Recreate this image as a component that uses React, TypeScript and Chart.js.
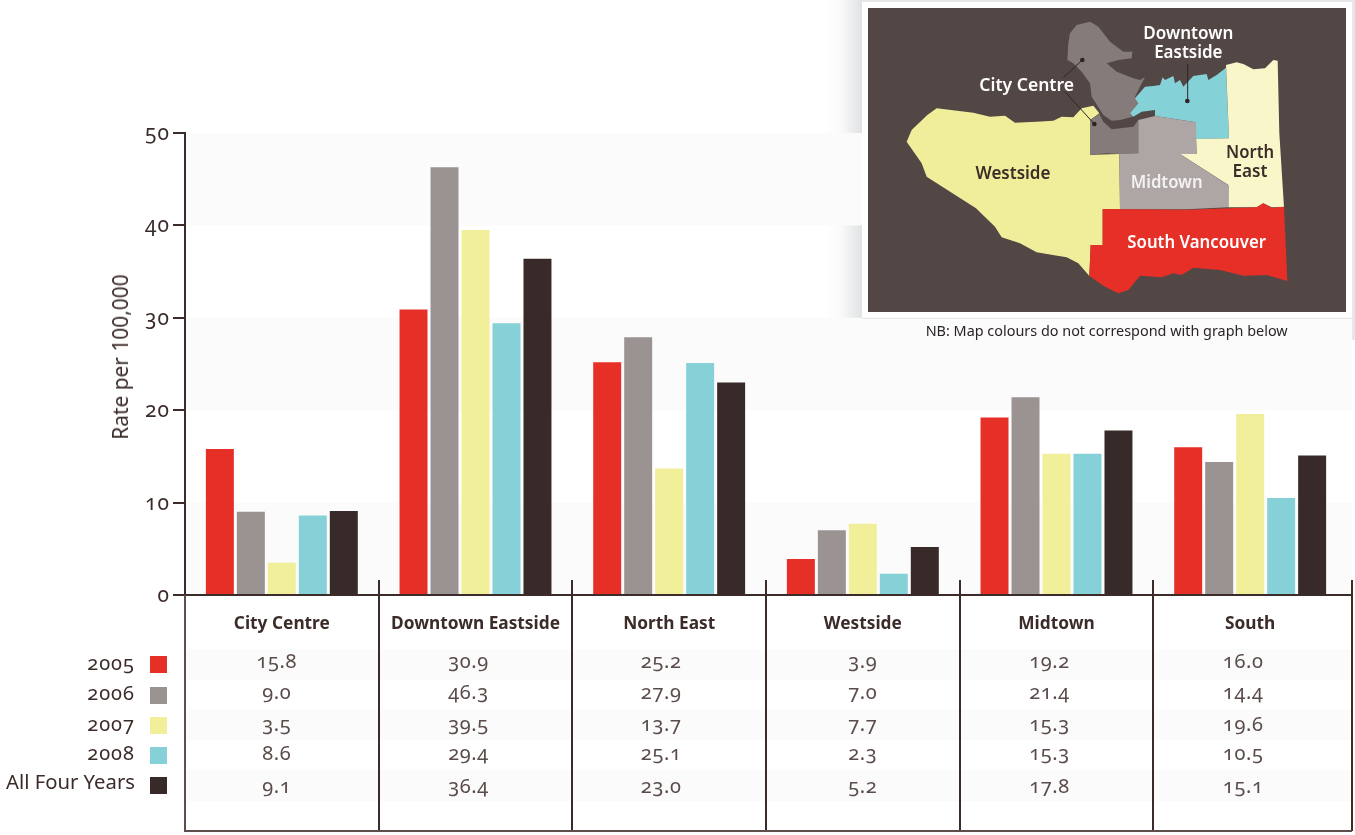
import React, { useEffect, useRef, useState } from "react";
import { Chart, registerables } from "chart.js";

Chart.register(...registerables);

const categories = ["City Centre", "Downtown Eastside", "North East", "Westside", "Midtown", "South"];
const yearLabels = ["2005", "2006", "2007", "2008", "All Four Years"];
const values2005 = [15.8, 30.9, 25.2, 3.9, 19.2, 16.0];
const values2006 = [9.0, 46.3, 27.9, 7.0, 21.4, 14.4];
const values2007 = [3.5, 39.5, 13.7, 7.7, 15.3, 19.6];
const values2008 = [8.6, 29.4, 25.1, 2.3, 15.3, 10.5];
const valuesAll = [9.1, 36.4, 23.0, 5.2, 17.8, 15.1];
const yearColors = ["#e63027", "#9a9392", "#f2ef9b", "#86d1d8", "#382a28"];
const seriesValues = [values2005, values2006, values2007, values2008, valuesAll];

const INK = "#3b2c2a";
const BAND = "#fbfbfb";
const FONT = "'Noto Sans', sans-serif";

const rowCentres = [661.5, 692.5, 724.5, 754, 786.5];
const columnNudges = [-5, -7, -8, 0, -7, -7];
const rowBands = [[649, 680], [709, 740], [770, 801]];
const legendSwatchTops = [656, 687, 717, 747, 777];
const legendLabelCentres = [664, 694, 725, 754, 782];

// Vancouver districts, in the inset's own coordinate space.
const mapDistricts = [
  { fill: "#f1ee9b", pts: "200,425 215,390 262,345 290,325 400,338 450,350 495,347 525,368 590,365 640,362 665,350 700,352 725,325 760,317 778,340 750,360 750,465 838,462 840,628 788,628 788,735 752,735 748,828 715,790 680,772 590,757 540,730 485,712 465,680 408,625 260,530 245,490" },
  { fill: "#857b7a", pts: "690,100 710,75 750,65 775,80 810,125 850,155 877,155 875,175 835,180 800,190 830,215 880,235 900,240 915,232 905,250 885,290 895,310 870,340 878,350 840,360 815,362 790,345 755,290 750,250 725,215 700,190 682,180 685,130" },
  { fill: "#857b7a", pts: "750,360 778,342 790,365 815,388 880,380 895,360 895,460 838,462 800,460 750,465" },
  { fill: "#85d1d8", pts: "885,295 915,260 940,258 960,255 968,232 975,240 1000,228 1005,250 1020,240 1030,260 1060,228 1100,222 1105,240 1130,225 1158,203 1162,300 1167,415 1068,417 1068,367 945,348 945,330 905,335 880,350 870,340 895,310" },
  { fill: "#f9f6c9", pts: "1158,195 1190,187 1210,192 1240,208 1275,205 1300,180 1313,182 1318,400 1332,622 1295,622 1270,610 1250,622 1165,622 1165,555 1020,462 1070,462 1068,417 1167,415" },
  { fill: "#ada6a5", pts: "895,360 945,348 1068,367 1070,462 1020,462 1167,557 1165,622 1040,628 840,628 838,462 895,460" },
  { fill: "#e63027", pts: "788,627 1040,629 1250,622 1270,610 1295,623 1332,620 1342,843 1280,825 1210,827 1140,810 1060,803 1025,825 1000,820 965,832 900,827 865,870 835,880 795,860 748,828 752,735 788,735" },
];

const mapLabels = [
  { text: "Downtown", x: 1045, y: 116, w: 270, fill: "#ffffff" },
  { text: "Eastside", x: 1045, y: 174, w: 205, fill: "#ffffff" },
  { text: "City Centre", x: 560, y: 272, w: 284, fill: "#ffffff" },
  { text: "Westside", x: 519, y: 536, w: 225, fill: INK },
  { text: "Midtown", x: 980, y: 564, w: 216, fill: "#f4f2f2" },
  { text: "North", x: 1230, y: 473, w: 144, fill: INK },
  { text: "East", x: 1230, y: 531, w: 105, fill: INK },
  { text: "South Vancouver", x: 1070, y: 743, w: 416, fill: "#ffffff" },
];

const mapLeaders = [
  { d: "M1043 192 L1043 303", dot: [1042, 303] },
  { d: "M670 233 L727 180", dot: [727, 180] },
  { d: "M675 275 L763 372", dot: [763, 372] },
];

const backdrop = {
  id: "backdrop",
  beforeDraw(chart: any) {
    const { ctx, scales } = chart;
    const y = scales.y;
    ctx.save();
    const grad = ctx.createLinearGradient(825, 0, 862, 0);
    grad.addColorStop(0, "rgba(224,226,227,0)");
    grad.addColorStop(0.4, "rgba(224,226,227,0.15)");
    grad.addColorStop(1, "rgba(224,226,227,1)");
    ctx.fillStyle = grad;
    ctx.fillRect(825, 0, 37, 318);
    ctx.fillStyle = "#e6e7e8";
    ctx.fillRect(862, 0, 493, 2);
    ctx.fillRect(1352, 0, 3, 340);
    ctx.fillStyle = BAND;
    [[50, 40], [30, 20], [10, 0]].forEach(([a, b]) => {
      const top = y.getPixelForValue(a);
      ctx.fillRect(186, top, 1166, y.getPixelForValue(b) - top);
    });
    rowBands.forEach(([t, b]) => ctx.fillRect(186, t, 1166, b - t));
    ctx.restore();
  },
};

const tableFrame = {
  id: "tableFrame",
  afterDraw(chart: any) {
    const { ctx, scales } = chart;
    const x = scales.x;
    const base = scales.y.getPixelForValue(0);
    ctx.save();
    ctx.strokeStyle = INK;
    ctx.lineWidth = 2;
    ctx.beginPath();
    ctx.moveTo(173, base);
    ctx.lineTo(1352, base);
    const step = x.getPixelForValue(1) - x.getPixelForValue(0);
    categories.forEach((_, i) => {
      if (i === 0) return;
      const px = Math.round(x.getPixelForValue(i) - step / 2);
      ctx.moveTo(px, 580);
      ctx.lineTo(px, 831);
    });
    ctx.moveTo(1352, 580);
    ctx.lineTo(1352, 831);
    ctx.stroke();
    ctx.strokeStyle = "#5f4f4c";
    ctx.beginPath();
    ctx.moveTo(185, base);
    ctx.lineTo(185, 832);
    ctx.moveTo(185, 831);
    ctx.lineTo(1352, 831);
    ctx.stroke();
    chart.data.datasets.forEach((d: any, i: number) => {
      ctx.fillStyle = d.backgroundColor;
      ctx.fillRect(150, legendSwatchTops[i], 17, 17);
    });
    ctx.restore();
  },
};

const numerals: React.CSSProperties = {
  position: "absolute",
  fontFamily: FONT,
  fontVariantNumeric: "oldstyle-nums",
  fontFeatureSettings: '"onum"',
  lineHeight: "24px",
  whiteSpace: "nowrap",
};

export default function App() {
  const ref = useRef<HTMLCanvasElement>(null);
  const [centres, setCentres] = useState<number[]>([]);
  const [yTicks, setYTicks] = useState<{ value: number; y: number }[]>([]);

  useEffect(() => {
    document.body.style.margin = "0";
    const chart = new Chart(ref.current!, {
      type: "bar",
      data: {
        labels: categories,
        datasets: seriesValues.map((data, i) => ({
          label: yearLabels[i],
          data,
          backgroundColor: yearColors[i],
          borderWidth: 0,
          categoryPercentage: 0.8,
          barPercentage: 0.903,
        })),
      },
      options: {
        animation: false,
        responsive: false,
        layout: { padding: { top: 133, right: 8 } },
        plugins: { legend: { display: false }, tooltip: { enabled: false } },
        scales: {
          x: {
            afterFit: (s: any) => { s.height = 240; },
            grid: { display: false, drawTicks: false },
            border: { display: false },
            ticks: { color: INK, font: { family: "Noto Sans", size: 17.3, weight: "bold" }, padding: 18.5, maxRotation: 0, autoSkip: false },
          },
          y: {
            min: 0,
            max: 50,
            afterFit: (s: any) => { s.width = 185; },
            grid: { drawOnChartArea: false, tickLength: 12, color: INK, lineWidth: 2 },
            border: { color: INK, width: 2 },
            ticks: { stepSize: 10, display: false },
          },
        },
      },
      plugins: [backdrop, tableFrame],
    } as any);
    setCentres(categories.map((_, i) => chart.scales.x.getPixelForValue(i)));
    setYTicks(chart.scales.y.ticks.map((t: any) => ({ value: t.value, y: chart.scales.y.getPixelForValue(t.value) })));
    return () => chart.destroy();
  }, []);

  return (
    <div style={{ position: "relative", width: 1355, height: 835, overflow: "hidden", background: "#fff" }}>
      <canvas ref={ref} width={1355} height={835} style={{ position: "absolute", left: 0, top: 0 }} />

      {yTicks.map((t) => (
        <span key={t.value} style={{ ...numerals, right: 1355 - 170, top: t.y - 13, fontSize: 21, letterSpacing: 1, color: INK }}>
          {t.value}
        </span>
      ))}
      <span style={{ position: "absolute", left: 120, top: 357, transform: "translate(-50%,-50%) rotate(-90deg)", fontFamily: FONT, fontSize: 20.9, color: INK, whiteSpace: "nowrap" }}>
        Rate per 100,000
      </span>

      {yearLabels.map((label, i) => (
        <span key={label} style={{ ...numerals, right: 1355 - 135, top: legendLabelCentres[i] - 13, fontSize: i < 4 ? 20 : 20.3, letterSpacing: i < 4 ? 1 : 0, color: INK }}>
          {label}
        </span>
      ))}

      {centres.map((cx, c) =>
        seriesValues.map((vals, r) => (
          <span key={`${c}-${r}`} style={{ ...numerals, left: cx + columnNudges[c] - 50, width: 100, top: rowCentres[r] - 13, textAlign: "center", fontSize: 20, letterSpacing: 0.6, color: "#5a4c4a" }}>
            {vals[c].toFixed(1)}
          </span>
        ))
      )}

      <svg viewBox="0 0 1545 1050" width={515} height={350} style={{ position: "absolute", left: 840, top: 0 }}>
        <rect x={66} y={6} width={1470} height={949} fill="#ffffff" />
        <rect x={66} y={953} width={1470} height={4} fill="#e9e9e9" />
        <rect x={84} y={24} width={1434} height={912} fill="#534746" />
        {mapDistricts.map((d, i) => (
          <polygon key={i} points={d.pts} fill={d.fill} />
        ))}
        {mapLeaders.map((l, i) => (
          <g key={i}>
            <path d={l.d} stroke="#2f2423" strokeWidth={3} fill="none" />
            <circle cx={l.dot[0]} cy={l.dot[1]} r={7} fill="#2f2423" />
          </g>
        ))}
        {mapLabels.map((l) => (
          <text key={l.text} x={l.x} y={l.y} textAnchor="middle" fill={l.fill} fontFamily={FONT} fontWeight={600} fontSize={52} textLength={l.w} lengthAdjust="spacingAndGlyphs">
            {l.text}
          </text>
        ))}
        <text x={800} y={1008} textAnchor="middle" fill="#2a2524" fontFamily={FONT} fontSize={44} textLength={1086} lengthAdjust="spacingAndGlyphs">
          NB: Map colours do not correspond with graph below
        </text>
      </svg>
    </div>
  );
}
